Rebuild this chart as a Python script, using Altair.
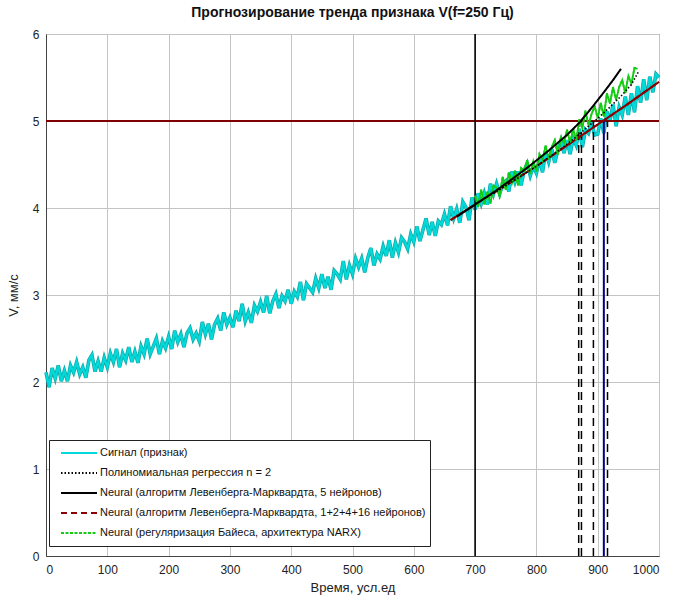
import altair as alt
import pandas as pd

FONT = "Liberation Sans, Arial, sans-serif"

# ---- data ----
sig_x = list(range(0, 1001, 5))
sig_y = [
    2.11, 1.94, 2.16, 2.04, 2.19, 2.01, 2.13, 2.01, 2.19, 2.11,
    2.23, 2.09, 2.17, 2.05, 2.25, 2.31, 2.12, 2.24, 2.12, 2.28,
    2.17, 2.33, 2.23, 2.38, 2.17, 2.33, 2.25, 2.40, 2.23, 2.35,
    2.22, 2.41, 2.32, 2.50, 2.32, 2.41, 2.50, 2.32, 2.47, 2.39,
    2.52, 2.38, 2.59, 2.46, 2.55, 2.40, 2.56, 2.62, 2.49, 2.56,
    2.47, 2.69, 2.55, 2.67, 2.49, 2.66, 2.73, 2.59, 2.80, 2.66,
    2.74, 2.63, 2.82, 2.70, 2.90, 2.70, 2.80, 2.68, 2.88, 2.81,
    2.92, 2.80, 2.99, 2.79, 2.93, 3.01, 2.85, 2.99, 2.93, 3.06,
    2.90, 3.04, 2.98, 3.15, 2.94, 3.13, 3.08, 3.03, 3.19, 3.08,
    3.24, 3.08, 3.21, 3.06, 3.28, 3.24, 3.18, 3.39, 3.18, 3.34,
    3.24, 3.42, 3.32, 3.42, 3.26, 3.43, 3.54, 3.34, 3.47, 3.41,
    3.56, 3.45, 3.63, 3.43, 3.60, 3.49, 3.66, 3.61, 3.53, 3.70,
    3.61, 3.79, 3.62, 3.75, 3.88, 3.69, 3.84, 3.68, 3.85, 3.81,
    3.93, 3.80, 4.02, 3.88, 3.99, 3.83, 4.07, 4.01, 3.86, 4.12,
    3.98, 4.17, 4.05, 4.17, 4.04, 4.28, 4.16, 4.28, 4.16, 4.27,
    4.31, 4.19, 4.42, 4.30, 4.42, 4.26, 4.43, 4.51, 4.37, 4.48,
    4.40, 4.56, 4.41, 4.65, 4.53, 4.68, 4.52, 4.67, 4.78, 4.63,
    4.78, 4.62, 4.80, 4.72, 4.91, 4.70, 4.90, 4.86, 4.99, 4.84,
    4.85, 5.03, 4.86, 5.11, 5.00, 5.19, 4.94, 5.16, 5.07, 5.28,
    5.07, 5.32, 5.10, 5.40, 5.21, 5.48, 5.24, 5.51, 5.33, 5.54, 5.50,
]

green_x = list(range(700, 966, 5))
green_y = [
    4.14, 4.01, 4.21, 4.04, 4.19, 4.05, 4.26, 4.23, 4.14, 4.36,
    4.21, 4.41, 4.29, 4.43, 4.26, 4.46, 4.43, 4.55, 4.39, 4.54,
    4.42, 4.62, 4.55, 4.72, 4.56, 4.70, 4.78, 4.61, 4.81, 4.75,
    4.90, 4.75, 4.91, 4.78, 5.02, 4.92, 5.12, 4.95, 5.08, 5.17,
    5.03, 5.21, 5.05, 5.32, 5.20, 5.39, 5.24, 5.39, 5.47, 5.32,
    5.52, 5.43, 5.61, 5.60,
]

poly_x = [700, 720, 740, 760, 780, 800, 820, 840, 860, 880, 900, 920, 940, 955, 966]
poly_y = [4.05, 4.13, 4.21, 4.30, 4.39, 4.48, 4.58, 4.68, 4.79, 4.91, 5.03, 5.16, 5.30, 5.42, 5.56]

lm5_x = [670, 700, 730, 760, 790, 820, 850, 870, 890, 910, 925, 938]
lm5_y = [3.90, 4.04, 4.18, 4.33, 4.49, 4.66, 4.84, 4.98, 5.15, 5.33, 5.47, 5.60]

lm16_x = [660, 700, 750, 800, 850, 900, 950, 1000]
lm16_y = [3.86, 4.04, 4.26, 4.48, 4.72, 4.96, 5.20, 5.45]

threshold = [5.0]
split_x = [700]
cross_x = [869, 873.5, 893, 916]
signal_cross_x = [910]

series = [
    "Сигнал (признак)",
    "Полиномиальная регрессия n = 2",
    "Neural (алгоритм Левенберга-Марквардта, 5 нейронов)",
    "Neural (алгоритм Левенберга-Марквардта, 1+2+4+16 нейронов)",
    "Neural (регуляризация Байеса, архитектура NARX)",
]
series_colors = ["#00dada", "#000000", "#000000", "#8b0000", "#14cc14"]
series_dash = [[1, 0], [1.5, 2], [1, 0], [6, 4], [3, 1.5]]

x_ticks = list(range(0, 1001, 100))
y_ticks = [0, 1, 2, 3, 4, 5, 6]

# ---- tables ----
def tbl(xs, ys, name):
    return pd.DataFrame({"x": xs, "y": ys, "series": name})

df_sig = tbl(sig_x, sig_y, series[0])
df_poly = tbl(poly_x, poly_y, series[1])
df_lm5 = tbl(lm5_x, lm5_y, series[2])
df_lm16 = tbl(lm16_x, lm16_y, series[3])
df_green = tbl(green_x, green_y, series[4])

xs = alt.Scale(domain=[0, 1000], nice=False)
ys = alt.Scale(domain=[0, 6], nice=False)
x_axis = alt.Axis(values=x_ticks, title="Время, усл.ед", grid=True, format="d")
y_axis = alt.Axis(values=y_ticks, title="V, мм/с", grid=True, format="d")

X = alt.X("x:Q", scale=xs, axis=x_axis)
Y = alt.Y("y:Q", scale=ys, axis=y_axis)

color_scale = alt.Scale(domain=series, range=series_colors)
dash_scale = alt.Scale(domain=series, range=series_dash)
COLOR = alt.Color("series:N", scale=color_scale, legend=alt.Legend(title=None))
DASH = alt.StrokeDash("series:N", scale=dash_scale, legend=alt.Legend(title=None))


def legend_line(df, width):
    return alt.Chart(df).mark_line(strokeWidth=width).encode(
        x=X, y=Y, color=COLOR, strokeDash=DASH, order="x:Q"
    )


def plain_line(df, color, width):
    return alt.Chart(df).mark_line(color=color, strokeWidth=width).encode(
        x=X, y=Y, order="x:Q"
    )


sig_under = plain_line(df_sig, "#12a6a6", 3.6)
sig_main = legend_line(df_sig, 2.2)
lm16_solid = plain_line(df_lm16, "#8b0000", 2)
lm16_main = legend_line(df_lm16, 2)
green_solid = plain_line(df_green, "#14cc14", 1.8)
green_main = legend_line(df_green, 1.8)
lm5_main = legend_line(df_lm5, 2)
poly_main = legend_line(df_poly, 1.6)

hline = alt.Chart(pd.DataFrame({"y": threshold})).mark_rule(
    color="#800000", strokeWidth=2
).encode(y=Y)

vline = alt.Chart(pd.DataFrame({"x": split_x})).mark_rule(
    color="#000000", strokeWidth=1.6
).encode(x=X)

dashed = alt.Chart(
    pd.DataFrame({"x": cross_x, "y": [0.0] * len(cross_x), "y2": threshold * len(cross_x)})
).mark_rule(color="#000000", strokeWidth=1.5, strokeDash=[8, 5]).encode(
    x=X, y=Y, y2="y2:Q"
)

blue = alt.Chart(
    pd.DataFrame({"x": signal_cross_x, "y": [0.0], "y2": threshold})
).mark_rule(color="#000080", strokeWidth=2).encode(x=X, y=Y, y2="y2:Q")

chart = alt.layer(
    sig_under,
    sig_main,
    hline,
    vline,
    dashed,
    blue,
    lm16_solid,
    lm16_main,
    green_solid,
    green_main,
    lm5_main,
    poly_main,
).properties(
    width=613,
    height=522,
    autosize=alt.AutoSizeParams(type="none"),
    padding={"left": 46, "top": 34, "right": 27, "bottom": 51},
    title=alt.TitleParams(
        "Прогнозирование тренда признака V(f=250 Гц)",
        font=FONT,
        fontSize=14,
        fontWeight="bold",
        color="#111111",
        anchor="middle",
        offset=8,
    ),
).configure(
    font=FONT, background="white"
).configure_view(
    stroke="#444444", strokeWidth=1
).configure_axis(
    labelFont=FONT,
    labelFontSize=12,
    labelColor="#222222",
    titleFont=FONT,
    titleFontSize=13,
    titleFontWeight="normal",
    titleColor="#222222",
    gridColor="#c4c4c4",
    gridWidth=1,
    domainColor="#444444",
    ticks=False,
    tickSize=0,
).configure_axisX(
    labelPadding=8, titlePadding=6
).configure_axisY(
    labelPadding=7, titlePadding=12
).configure_legend(
    orient="none",
    legendX=3,
    legendY=406,
    strokeColor="#222222",
    fillColor="white",
    padding=4,
    symbolType="stroke",
    symbolSize=1296,
    symbolStrokeWidth=2,
    clipHeight=18,
    rowPadding=2,
    labelOffset=2,
    symbolOffset=7,
    labelFont=FONT,
    labelFontSize=11,
    labelColor="#111111",
    labelLimit=500,
    cornerRadius=0,
)

chart.save("out.html", embed_options={"renderer": "svg", "actions": False})
